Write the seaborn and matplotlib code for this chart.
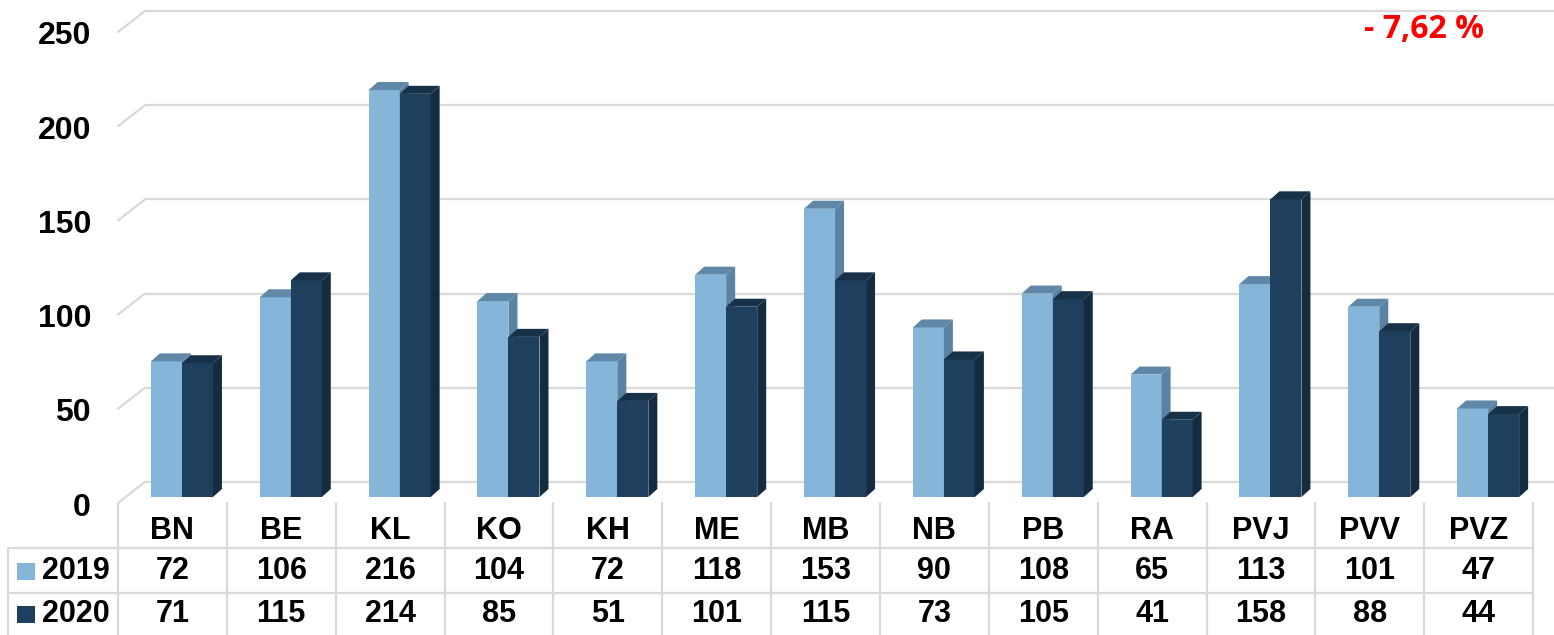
import matplotlib
matplotlib.use("Agg")
import matplotlib.pyplot as plt
import seaborn as sns
import pandas as pd
from matplotlib.patches import Polygon, Rectangle
from matplotlib.transforms import ScaledTranslation

# ---- data ----
categories = ["BN", "BE", "KL", "KO", "KH", "ME", "MB", "NB", "PB", "RA", "PVJ", "PVV", "PVZ"]
values_2019 = [72, 106, 216, 104, 72, 118, 153, 90, 108, 65, 113, 101, 47]
values_2020 = [71, 115, 214, 85, 51, 101, 115, 73, 105, 41, 158, 88, 44]
series_names = ["2019", "2020"]
y_ticks = [0, 50, 100, 150, 200, 250]
change_label = "- 7,62 %"

# ---- style ----
sns.set_theme(style="white")
plt.rcParams["font.family"] = ["Liberation Sans", "DejaVu Sans"]
plt.rcParams["font.weight"] = "bold"

LIGHT = "#85b5d9"
LIGHT_TOP = "#5f88a8"
LIGHT_SIDE = "#5a82a2"
DARK = "#1e405e"
DARK_TOP = "#173149"
DARK_SIDE = "#142b40"
GRID = "#d9d9d9"

W, H = 1554, 635
fig = plt.figure(figsize=(W / 100, H / 100), dpi=100)

# layout in pixels
TABLE_L = 118          # left of first category column
COL_W = 108.85         # column width
NCOL = len(categories)
TABLE_R = TABLE_L + NCOL * COL_W
PX_PER_UNIT = 1.884
BAR_BASE = 497         # front bottom of bars
BAR_SHIFT = 9.5        # bars sit a bit deeper than the front edge
BACK_BASE = 482        # back-wall baseline
DEPTH_X, DEPTH_Y = 9, 8

# background axes in pixel coordinates (grid, table)
axbg = fig.add_axes([0, 0, 1, 1], zorder=0)
axbg.set_xlim(0, W)
axbg.set_ylim(H, 0)
axbg.axis("off")

for v in y_ticks:
    yb = BACK_BASE - PX_PER_UNIT * v
    axbg.plot([145, W], [yb, yb], color=GRID, lw=1.6, solid_capstyle="butt")
    axbg.plot([TABLE_L, 145], [yb + 21, yb], color=GRID, lw=1.6)

# table lines
for yl in [548, 593]:
    axbg.plot([8, TABLE_R], [yl, yl], color=GRID, lw=1.6)
axbg.plot([8, 8], [548, H], color=GRID, lw=1.6)
for k in range(NCOL + 1):
    xl = TABLE_L + k * COL_W
    axbg.plot([xl, xl], [503, H], color=GRID, lw=1.6)

# category labels and values
ROW_CAT, ROW_A, ROW_B = 531, 571, 614
for i, c in enumerate(categories):
    xc = TABLE_L + (i + 0.5) * COL_W
    axbg.text(xc, ROW_CAT, c, ha="center", va="center", fontsize=22, fontweight="bold", color="black")
    axbg.text(xc, ROW_A, str(values_2019[i]), ha="center", va="center", fontsize=22, fontweight="bold", color="black")
    axbg.text(xc, ROW_B, str(values_2020[i]), ha="center", va="center", fontsize=22, fontweight="bold", color="black")

# legend keys inside the table
for yrow, name, col in [(ROW_A, series_names[0], LIGHT), (ROW_B, series_names[1], DARK)]:
    axbg.add_patch(Rectangle((17, yrow - 8.5), 18, 17, facecolor=col, edgecolor="none"))
    axbg.text(42, yrow, name, ha="left", va="center", fontsize=22, fontweight="bold", color="black")

# change label
axbg.text(1424, 30, change_label, ha="center", va="center", fontsize=23, fontweight="bold",
          color="#ff0000", family=["Open Sans", "DejaVu Sans"])

# ---- bar axes ----
ax_left = TABLE_L + BAR_SHIFT
ax = fig.add_axes([ax_left / W, 1 - BAR_BASE / H, (TABLE_R - TABLE_L) / W, BAR_BASE / H], zorder=1)
ax.patch.set_alpha(0)

df = pd.DataFrame({
    "cat": categories * 2,
    "year": [series_names[0]] * NCOL + [series_names[1]] * NCOL,
    "val": values_2019 + values_2020,
})
sns.barplot(data=df, x="cat", y="val", hue="year", order=categories, hue_order=series_names,
            palette=[LIGHT, DARK], saturation=1, width=0.57, dodge=True, gap=0,
            linewidth=0, edgecolor="none", ax=ax, legend=False, errorbar=None)

ax.set_xlim(-0.5, NCOL - 0.5)
ax.set_ylim(0, BAR_BASE / PX_PER_UNIT)

dx = DEPTH_X / COL_W
dy = DEPTH_Y / PX_PER_UNIT
bars = list(ax.patches)
for j, p in enumerate(bars):
    is_dark = j >= NCOL
    z = 3 if is_dark else 2
    p.set_zorder(z)
    x0, w, h = p.get_x(), p.get_width(), p.get_height()
    top = Polygon([(x0, h), (x0 + w, h), (x0 + w + dx, h + dy), (x0 + dx, h + dy)], closed=True,
                  facecolor=DARK_TOP if is_dark else LIGHT_TOP, edgecolor="none", zorder=z + 0.1)
    side = Polygon([(x0 + w, 0), (x0 + w + dx, dy), (x0 + w + dx, h + dy), (x0 + w, h)], closed=True,
                   facecolor=DARK_SIDE if is_dark else LIGHT_SIDE, edgecolor="none", zorder=z + 0.1)
    ax.add_patch(top)
    ax.add_patch(side)

for s in ax.spines.values():
    s.set_visible(False)
ax.set_xlabel("")
ax.set_ylabel("")
ax.set_xticks([])
ax.set_yticks(y_ticks)
ax.set_yticklabels([str(v) for v in y_ticks])
pad_px = ax_left - 91
ax.tick_params(axis="y", length=0, pad=pad_px * 72 / 100, labelsize=23)
for lab in ax.get_yticklabels():
    lab.set_fontweight("bold")
    lab.set_color("black")
    lab.set_transform(lab.get_transform() + ScaledTranslation(0, -7 / 100, fig.dpi_scale_trans))

fig.savefig("out.png", dpi=100)
